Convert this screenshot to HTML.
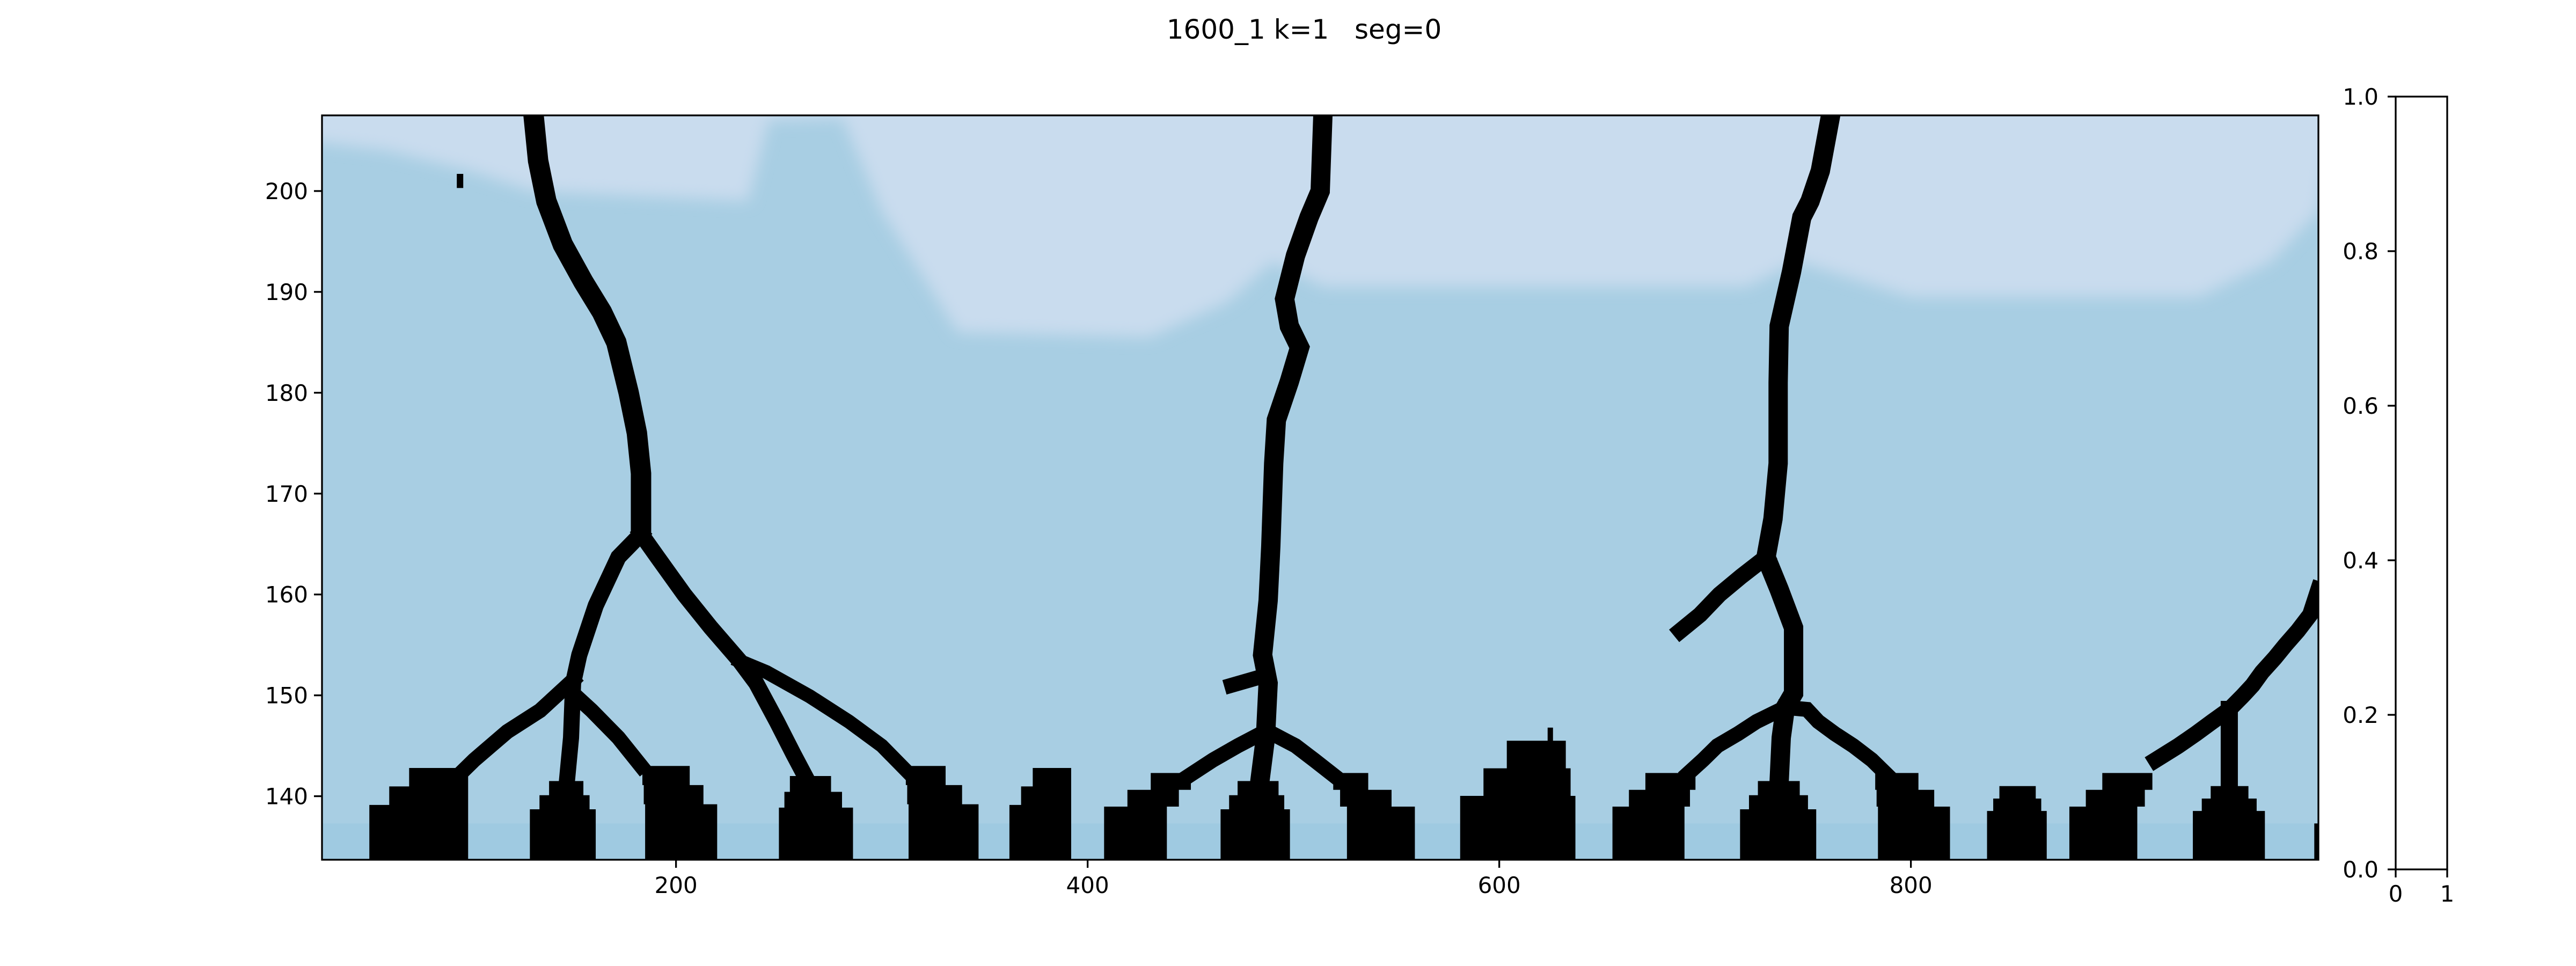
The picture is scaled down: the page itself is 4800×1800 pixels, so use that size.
<!DOCTYPE html>
<html><head><meta charset="utf-8"><style>
html,body{margin:0;padding:0;background:#fff;}
svg{display:block;font-family:"DejaVu Sans","Liberation Sans",sans-serif;}
</style></head><body>
<svg id="chart" width="4800" height="1800" viewBox="0 0 4800 1800" xmlns="http://www.w3.org/2000/svg">
<defs>
<filter id="soft" x="-10%" y="-50%" width="120%" height="200%"><feGaussianBlur stdDeviation="14"/></filter>
<clipPath id="plotclip"><rect x="600" y="215" width="3720" height="1387"/></clipPath>
</defs>
<text x="2430" y="72" font-size="50" text-anchor="middle" xml:space="preserve" style="white-space:pre">1600_1 k=1   seg=0</text>
<g id="plot" clip-path="url(#plotclip)"></g>
<rect x="600" y="215" width="3720" height="1387" fill="none" stroke="#000" stroke-width="3.3"/>
<g id="axes"></g>
<g>
<rect x="4464" y="180" width="96" height="1440" fill="#fff" stroke="#000" stroke-width="3.3"/>
<g id="cbticks"></g>
</g>
</svg>
<script>
// ---- data ----
const xTicks = [200, 400, 600, 800];
const yTicks = [140, 150, 160, 170, 180, 190, 200];
const cbTicks = ["0.0","0.2","0.4","0.6","0.8","1.0"];
const cbXTicks = ["0","1"];
const trunkLeft = [[130.8,207.5],[133,203],[137,199],[145,194.7],[155,191],[164,188],[171,185],[177,180],[181,176],[183,172],[183,166]];
const trunkMid = [[514.3,207.5],[513,200],[507.6,197.4],[501,193.6],[495.7,189.3],[498,186.6],[503,184.5],[498,181.1],[491.7,177.3],[490.4,173],[489,164.8],[487.7,159.4],[485,154],[487.7,151.2],[486.4,145.8],[483.7,141.5],[483,138]];
const trunkRight = [[761,207.5],[756,202],[751,199],[747,197.4],[742,192],[736,186.6],[735.5,181],[735.5,173],[733,167.5],[729.6,163.7],[736,160.5],[743,156.7],[743,150.2],[739,148.8],[737,145.8],[736,141.5],[736,138]];
const branchLeftA = [[183,166],[172,163.7],[161,158.9],[153,154],[150,151.2],[149,145.8],[147,141.5],[146,138]];
const branchLeftB = [[150,151.5],[134,148.5],[118,146.4],[102,143.6],[94,142]];
const branchLeftC = [[151,150],[159,148.5],[172,145.8],[183,143]];
const branchLeftD = [[183,166],[191,163.7],[204,160],[217,156.7],[231,153.4],[239,151.2],[249,147.4],[257,144.2],[264,141.5]];
const branchLeftE = [[231,153.4],[244,152.3],[265,149.9],[284,147.4],[300,145],[313,142.3]];
const branchMidA = [[487,152],[470,151]];
const branchMidB = [[487,146.5],[473,145],[461,143.6],[449,142]];
const branchMidC = [[487,146.5],[501,145],[510,143.6],[520,142]];
const branchRightA = [[729.6,163.7],[717.6,161.8],[707,160],[697.6,158],[688,156.4]];
const branchRightB = [[739,148.8],[725,147.4],[716,146.2],[706,145],[699,143.6],[692,142.3]];
const branchRightC = [[739,148.8],[749.5,148.6],[755,147.4],[763,146.2],[772,145],[781,143.6],[789,142]];
const branchRightD = [[919,143.6],[930,145],[938.5,146.2],[946.5,147.4],[954.7,148.6],[961,149.9],[966,151],[970.6,152.3],[976.8,153.7],[982,155],[988,156.4],[994,158],[998,160.5]];
const branchRightE = [[954.7,148.6],[954.7,141]];
// mountains: [xLeft, xRight, topLeft, topRight, topY]
const mountains = [[51,99,80,99,142.8],[129,161,143,152,141.5],[185,220,183,200,143],[250,286,258,270,142],[313,347,311,323,143],[362,392,379,392,142.8],[408,438.5,442,456,142.3],[464.6,498.3,477,490,141.5],[526,559,516,525,142.3],[581,637,615,630,145.5],[655,690,679,698,142.3],[717,754,730,742,141.5],[784,819,782,796,142.3],[837,866,846,858,141],[877,910,901,921,142.3],[937,972,950,960,141],[996,998,997,998,137.3]];
const lightBoundary = [[20,207.5],[20,205],[60,204],[100,202],[130,200],[235,199],[245,207],[281,207.2],[300,198],[337,186],[430,185.5],[468,189],[490,193],[515,190.5],[720,190.5],[745,193],[800,189.5],[940,189.5],[975,193],[998,198],[1005,207.5]];

// ---- axis functions ----
const X0 = 28, X1 = 998, Y0 = 133.7, Y1 = 207.5;
function xs(v){ return 600 + (v - X0) * 3720 / (X1 - X0); }
function ys(v){ return 215 + (Y1 - v) * 1387 / (Y1 - Y0); }

const NS = "http://www.w3.org/2000/svg";
const plot = document.getElementById('plot');
function mk(tag, attrs, parent){ const e = document.createElementNS(NS, tag); for (const k in attrs) e.setAttribute(k, attrs[k]); parent.appendChild(e); return e; }

let bg = mk('rect', {x:600, y:215, width:3720, height:1387, fill:'#a8cee3'}, plot);


let band = mk('rect', {x:600, y:ys(137.3), width:3720, height:1602-ys(137.3), fill:'#9fcae1'}, plot);


let light = mk('polygon', {points: lightBoundary.map(p => xs(p[0]) + ',' + ys(p[1])).join(' ') + ' ' + xs(1005) + ',150 ' + xs(20) + ',150', fill:'#c9dcee', filter:'url(#soft)'}, plot);



function line(pts, w, name){
  const el = mk('polyline', {points: pts.map(p => xs(p[0]) + ',' + ys(p[1])).join(' '), fill:'none', stroke:'#000', 'stroke-width': w, 'stroke-linejoin':'miter', 'stroke-linecap':'square'}, plot);
  
  
}
line(trunkLeft, 38, 'trunk-left');
line(trunkMid, 36, 'trunk-middle');
line(trunkRight, 36, 'trunk-right');
line(branchLeftA, 30, 'branch-left-a');
line(branchLeftB, 28, 'branch-left-b');
line(branchLeftC, 28, 'branch-left-c');
line(branchLeftD, 30, 'branch-left-d');
line(branchLeftE, 26, 'branch-left-e');
line(branchMidA, 28, 'branch-middle-a');
line(branchMidB, 28, 'branch-middle-b');
line(branchMidC, 28, 'branch-middle-c');
line(branchRightA, 30, 'branch-right-a');
line(branchRightB, 28, 'branch-right-b');
line(branchRightC, 28, 'branch-right-c');
line(branchRightD, 30, 'branch-right-d');
line(branchRightE, 32, 'branch-right-e');

mountains.forEach(m => {
  // stepped staircase outline between base band top and peak
  const steps = 3;
  const left = [], right = [];
  for (let i = 0; i <= steps; i++) {
    const f = i / steps;
    const yv = 137.3 + (m[4] - 137.3) * f;
    const yn = i < steps ? 137.3 + (m[4] - 137.3) * (i + 1) / steps : m[4];
    const xl = m[0] + (m[2] - m[0]) * f;
    const xr = m[1] + (m[3] - m[1]) * f;
    left.push([xl, yv]); left.push([xl, yn]);
    right.push([xr, yv]); right.push([xr, yn]);
  }
  const pts = [[m[0], Y0]].concat(left, right.reverse(), [[m[1], Y0]]);
  const el = mk('polygon', {points: pts.map(p => xs(p[0]) + ',' + ys(p[1])).join(' '), fill:'#000'}, plot);
  
  
});
let spike = mk('rect', {x:xs(623.5), y:ys(146.8), width:10, height:ys(145.5)-ys(146.8)+2, fill:'#000'}, plot);


let dot = mk('rect', {x:xs(93.5), y:ys(201.7), width:12, height:ys(200.3)-ys(201.7), fill:'#000'}, plot);



const axes = document.getElementById('axes');
xTicks.forEach(t => {
  const x = xs(t);
  const tk = mk('line', {x1:x, x2:x, y1:1602, y2:1617, stroke:'#000', 'stroke-width':3.3}, axes);
  
  
  const lb = mk('text', {x:x, y:1664, 'font-size':42, 'text-anchor':'middle'}, axes);
  lb.textContent = t;
  
  
});
yTicks.forEach(t => {
  const y = ys(t);
  const tk = mk('line', {x1:585, x2:600, y1:y, y2:y, stroke:'#000', 'stroke-width':3.3}, axes);
  
  
  const lb = mk('text', {x:574, y:y+15, 'font-size':42, 'text-anchor':'end'}, axes);
  lb.textContent = t;
  
  
});
const cb = document.getElementById('cbticks');
cbTicks.forEach((t, i) => {
  const y = 1620 - i * 1440 / (cbTicks.length - 1);
  const tk = mk('line', {x1:4449, x2:4464, y1:y, y2:y, stroke:'#000', 'stroke-width':3.3}, cb);
  
  
  const lb = mk('text', {x:4432, y:y+15, 'font-size':42, 'text-anchor':'end'}, cb);
  lb.textContent = t;
  
  
});
cbXTicks.forEach((t, i) => {
  const x = 4464 + i * 96;
  const tk = mk('line', {x1:x, x2:x, y1:1620, y2:1635, stroke:'#000', 'stroke-width':3.3}, cb);
  
  
  const lb = mk('text', {x:x, y:1680, 'font-size':42, 'text-anchor':'middle'}, cb);
  lb.textContent = t;
  
  
});
</script>
</body></html>
